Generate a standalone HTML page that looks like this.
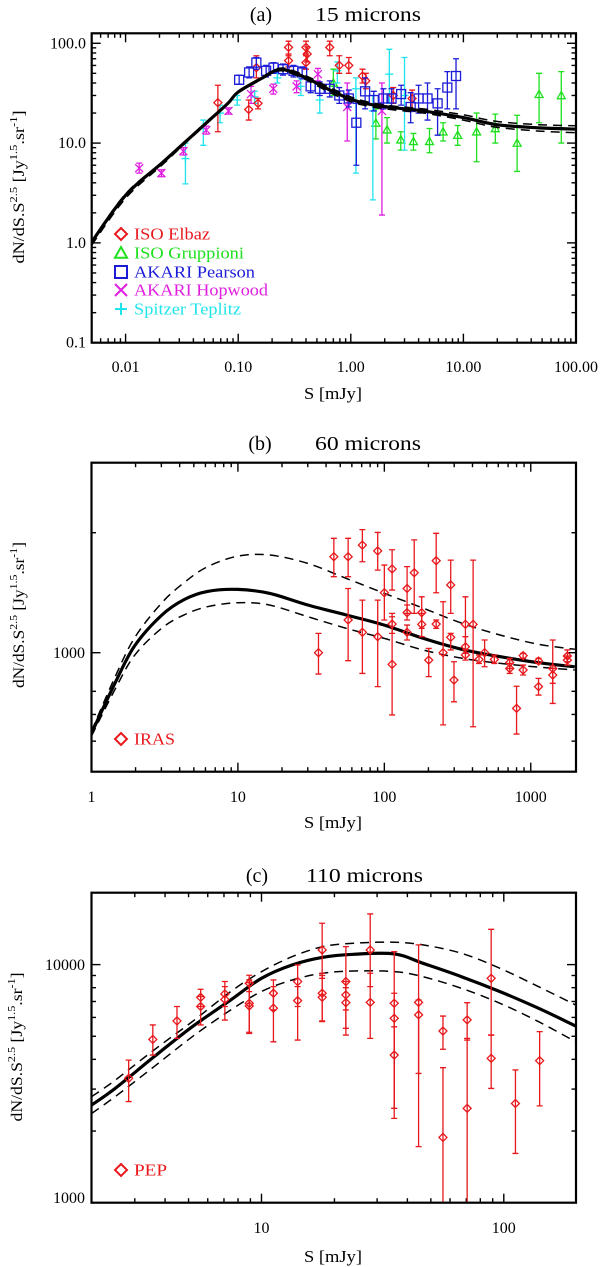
<!DOCTYPE html>
<html>
<head>
<meta charset="utf-8">
<style>
html,body{margin:0;padding:0;background:#fff;}
svg{display:block;}
text{font-family:"Liberation Serif",serif;fill:#000;}
</style>
</head>
<body>
<svg id="fig" width="600" height="1267" viewBox="0 0 600 1267" xmlns="http://www.w3.org/2000/svg">
<defs>
<clipPath id="clipA"><rect x="91.7" y="33.3" width="484.3" height="309.4"/></clipPath>
<clipPath id="clipB"><rect x="91.5" y="462.7" width="484.5" height="309"/></clipPath>
<clipPath id="clipC"><rect x="91.5" y="892.7" width="484.5" height="310"/></clipPath>
</defs>
</svg>
<script>
// ---------- Panel (a) data: 15 microns ----------
const elbazS  = [0.066,0.124,0.15,0.145,0.28,0.28,0.40,0.41,0.40,0.65,0.79,0.96,1.27,1.36,2.38,3.5];
const elbazY  = [25.4,21.7,25,57,91,67,91,78,64,91,60,60,47,42,30,28];
const elbazLo = [13,17,22,45,75,58,78,65,55,75,50,50,40,35,25,22];
const elbazHi = [38,27,28,75,105,78,105,92,75,105,75,72,55,50,36,34];

const grupS  = [0.7,1.67,2.1,2.78,3.6,5.0,6.6,8.9,13.1,19.2,30,47,74];
const grupY  = [40,15.9,13.6,10.8,10.4,10.4,13,12,13,14,10,30.8,30];
const grupLo = [30,11,10,8.5,8.5,8,10.5,9.5,6.5,10,5.2,16,10];
const grupHi = [55,22,18,13,12.5,14,16,15,20,19.5,19,50,52];

const pearS  = [0.102,0.125,0.145,0.177,0.206,0.25,0.31,0.37,0.44,0.53,0.65,0.79,0.96,1.12,1.34,1.6,1.95,2.3,2.8,3.4,4.0,4.8,5.9,7.2,8.6];
const pearY  = [43,51,64,53,57,55,53,51,37,35,35,30,28,16,33,27,28,28,31,23,28,28,25,36,47];
const pearLo = [39,45,55,46,50,48,46,44,32,30,29,25,23,6,22,21,22,22,24,16,20,17,12,22,22];
const pearHi = [48,58,72,60,64,62,60,58,43,41,42,36,34,25,45,33,35,35,38,32,38,40,35,52,70];

const hopS  = [0.0132,0.0208,0.0326,0.052,0.082,0.13,0.205,0.33,0.51,0.93,1.89];
const hopY  = [5.6,5.0,8.3,13.5,21,31,35,37,49,23,21];
const hopLo = [5.0,4.6,7.6,12.3,19.5,25,31,32,42,10.5,1.9];
const hopHi = [6.3,5.4,9.0,14.8,22.5,37,39,42,56,40,40];

const tepS  = [0.034,0.049,0.069,0.098,0.14,0.223,0.36,0.53,0.76,1.11,1.57,2.2,3.0];
const tepY  = [7,14,20,27,29,45,37,27,53,35,21,49,30];
const tepLo = [3.9,9.5,16,24,25,40,30,20,40,5,2.7,25,8.5];
const tepHi = [10,17,24,30,33,50,44,37,65,45,30,87,72];

const modelAS  = [0.005,0.01,0.021,0.033,0.052,0.081,0.1,0.164,0.22,0.28,0.42,0.62,1,1.5,2.4,4.4,10,19.7,47,100];
const modelAY  = [1.02,3.0,6.3,10,15.9,25,32.5,45,54,53,44,35,27.5,24.4,22.6,21,18,15.3,14.2,13.8];
const modelAUp = [1.05,3.1,6.4,10.2,16.2,25.5,33,46,55.5,55,46,37,29,25.5,23.5,22,19.2,16.5,15.3,14.9];
const modelALo = [0.95,2.8,6.0,9.7,15.5,24.5,32,44,52.5,51,42,33,26,23.2,21.5,20,17,14.4,13.2,12.7];

// ---------- Panel (b) data: 60 microns ----------
const irasS  = [35.5,45.2,56.6,56.6,70.8,70.8,90.1,90.1,100,113,113,113,143,143,143,160,180,180,201,226,226,252,284,284,299,358,358,358,404,443,484,564,718,718,800,887,887,1130,1130,1413,1413,1778,1778];
const irasY  = [1000,1741,1741,1208,1862,1125,1800,1097,1414,1622,1180,935,1449,1260,1125,1587,1260,1178,958,1701,1180,1000,1479,1093,854,1178,1035,987,1178,962,1000,962,944,913,725,983,905,953,822,913,879,981,958];
const irasHi = [1118,1936,1936,1449,2036,1355,2003,1355,1659,1812,1231,1255,1644,1317,1173,1919,1381,1255,1025,1993,1208,1342,1707,1118,949,1381,1097,1016,1707,987,1076,987,968,940,824,996,931,968,862,1076,913,1016,981];
const irasLo = [884,1551,1551,955,1691,887,1611,822,1208,1436,1118,698,1255,1208,1076,1255,1151,1097,871,1414,1151,659,1255,1016,753,1016,996,958,652,940,922,940,913,887,625,968,879,940,783,746,838,949,931];

const modelBS  = [1,1.45,1.97,3.0,4.3,6.2,10,16.4,30,55,100,185,340,620,1130,2000];
const modelBY  = [628,840,1040,1240,1360,1425,1441,1409,1317,1243,1173,1086,1019,977,944,922];
const modelBUp = [636,870,1090,1330,1500,1643,1747,1758,1675,1536,1409,1292,1185,1107,1050,1020];
const modelBLo = [618,810,985,1150,1245,1304,1335,1317,1231,1151,1086,1015,968,940,920,905];

// ---------- Panel (c) data: 110 microns ----------
const pepS  = [2.83,3.56,4.48,5.61,5.61,7.06,7.06,8.9,8.9,8.9,11.2,11.2,14.1,14.1,17.8,17.8,17.8,22.3,22.3,22.3,28.1,28.1,35.3,35.3,35.3,44.5,44.5,56.1,56.1,70.6,70.6,88.7,88.7,111.7,140.6];
const pepY  = [3330,4850,5800,7290,6670,7530,7140,6880,6700,8350,7580,6560,8490,7060,11520,7580,7290,8490,7460,6920,11520,6940,6880,5950,4170,6940,6150,5260,1880,5860,2490,8760,4040,2610,3950];
const pepHi = [3970,5580,6670,7880,7350,8490,8080,8620,8400,9020,8620,8080,9970,8080,14920,9200,9000,11900,8490,8000,16320,9200,11330,7580,5480,12100,7100,6080,3690,6920,4900,14070,5060,3610,5230];
const pepLo = [2660,4170,4900,6670,5580,6670,5850,5140,5200,7700,6450,4740,6670,4820,8760,5760,5800,5060,6450,5400,8080,4900,2490,2260,2490,3490,1720,4410,800,4820,800,5060,3020,1610,2550];

const modelCS  = [1.99,2.49,3.6,5.18,7.47,10,13.4,17.9,24,35.3,46.4,66.9,96.5,139,198];
const modelCY  = [2570,3020,4101,5483,7110,8760,9970,10730,11050,11090,10130,8900,7700,6560,5520];
const modelCUp = [2790,3270,4380,5760,7710,9340,10800,11900,12300,12420,12100,11160,9650,8080,6770];
const modelCLo = [2370,2790,3725,4980,6450,7710,8620,9200,9400,9350,8900,7950,6880,5760,4740];

// ---------- drawing ----------
const NS = 'http://www.w3.org/2000/svg';
const svg = document.getElementById('fig');
const RED='#e8181c', GREEN='#1ee01e', BLUE='#1c1cd8', MAG='#e01ee0', CYAN='#20e4ec';

function mk(tag, attrs, parent){
  const e=document.createElementNS(NS,tag);
  for(const k in attrs) e.setAttribute(k,attrs[k]);
  (parent||svg).appendChild(e);
  return e;
}
function logAxis(l0,l1,p0,p1){ return v => p0 + (Math.log10(v)-l0)/(l1-l0)*(p1-p0); }

function drawFrame(g, box){
  const r = mk('rect',{x:box.x0,y:box.y1,width:box.x1-box.x0,height:box.y0-box.y1,fill:'none',stroke:'#000','stroke-width':2.2},g);
  
  
}
function tickX(g, X, box, vals, len){
  vals.forEach(v=>{
    const x=X(v);
    mk('line',{x1:x,x2:x,y1:box.y0,y2:box.y0-len,stroke:'#000','stroke-width':1.4},g);
    mk('line',{x1:x,x2:x,y1:box.y1,y2:box.y1+len,stroke:'#000','stroke-width':1.4},g);
  });
}
function tickY(g, Y, box, vals, len){
  vals.forEach(v=>{
    const y=Y(v);
    mk('line',{x1:box.x0,x2:box.x0+len,y1:y,y2:y,stroke:'#000','stroke-width':1.4},g);
    mk('line',{x1:box.x1,x2:box.x1-len,y1:y,y2:y,stroke:'#000','stroke-width':1.4},g);
  });
}
function decadeMinors(a,b){ const out=[]; for(let d=a;d<=b;d++){ for(let m=2;m<=9;m++) out.push(m*Math.pow(10,d)); } return out; }

function marker(g,type,x,y,col,s,w){
  let e;
  if(type==='diamond') e=mk('polygon',{points:`${x},${y-s} ${x+s},${y} ${x},${y+s} ${x-s},${y}`,fill:'none',stroke:col,'stroke-width':w},g);
  else if(type==='square') e=mk('rect',{x:x-s,y:y-s,width:2*s,height:2*s,fill:'none',stroke:col,'stroke-width':w},g);
  else if(type==='triangle') e=mk('polygon',{points:`${x},${y-s} ${x+s},${y+s*0.8} ${x-s},${y+s*0.8}`,fill:'none',stroke:col,'stroke-width':w},g);
  else if(type==='cross') e=mk('path',{d:`M${x-s},${y-s}L${x+s},${y+s}M${x-s},${y+s}L${x+s},${y-s}`,stroke:col,'stroke-width':w,fill:'none'},g);
  else e=mk('path',{d:`M${x-s},${y}L${x+s},${y}M${x},${y-s}L${x},${y+s}`,stroke:col,'stroke-width':w,fill:'none'},g);
  return e;
}
function series(g, X, Y, xs, ys, lo, hi, type, col, name){
  const sg=mk('g',{},g);
  
  
  xs.forEach((v,i)=>{
    const x=X(v), y1=Y(hi[i]), y2=Y(lo[i]);
    const eb=mk('path',{d:`M${x},${y1}L${x},${y2}M${x-3},${y1}L${x+3},${y1}M${x-3},${y2}L${x+3},${y2}`,stroke:col,'stroke-width':1.3,fill:'none'},sg);
    
    
    const m=marker(sg,type,x,Y(ys[i]),col,type==='square'?4.5:4,1.3);
    
    
  });
}
function curve(g,X,Y,xs,ys,dashed,name){
  const P=xs.map((v,i)=>[X(v),Y(ys[i])]);
  let d='M'+P[0][0].toFixed(1)+','+P[0][1].toFixed(1);
  for(let i=0;i<P.length-1;i++){
    const p0=P[Math.max(0,i-1)], p1=P[i], p2=P[i+1], p3=P[Math.min(P.length-1,i+2)];
    const c1=[p1[0]+(p2[0]-p0[0])/6, p1[1]+(p2[1]-p0[1])/6];
    const c2=[p2[0]-(p3[0]-p1[0])/6, p2[1]-(p3[1]-p1[1])/6];
    d+=`C${c1[0].toFixed(1)},${c1[1].toFixed(1)} ${c2[0].toFixed(1)},${c2[1].toFixed(1)} ${p2[0].toFixed(1)},${p2[1].toFixed(1)}`;
  }
  const p=mk('path',{d:d,fill:'none',stroke:'#000','stroke-width':dashed?1.5:3.2,'stroke-dasharray':dashed?'9,6':'none','stroke-linejoin':'round'},g);
  
  
}
function text(g,x,y,str,size,anchor,name,len){
  const t=mk('text',{x:x,y:y,'font-size':size,'text-anchor':anchor||'start'},g);
  if(len){ t.setAttribute('textLength',len); t.setAttribute('lengthAdjust','spacingAndGlyphs'); }
  t.textContent=str;
  
  
  return t;
}
function yTitle(g,cx,cy,len){
  const t=mk('text',{x:cx,y:cy,'font-size':16,'text-anchor':'middle',transform:`rotate(-90 ${cx} ${cy})`,textLength:len,lengthAdjust:'spacingAndGlyphs'},g);
  t.innerHTML='dN/dS.S<tspan font-size="11" dy="-7">2.5</tspan><tspan dy="7"> [Jy</tspan><tspan font-size="11" dy="-7">1.5</tspan><tspan dy="7">.sr</tspan><tspan font-size="11" dy="-7">-1</tspan><tspan dy="7">]</tspan>';
  
  
}
function legendEntry(g,x,y,type,col,label,len){
  const lg=mk('g',{},g);
  
  
  marker(lg,type,x,y,col,6,2);
  const t=mk('text',{x:x+13,y:y+5.5,'font-size':17,fill:col,textLength:len,lengthAdjust:'spacingAndGlyphs'},lg);
  t.style.fill=col;
  t.textContent=label;
}

// ===== Panel A =====
(function(){
  const g=mk('g',{});  
  const box={x0:91.7,x1:576,y0:342.7,y1:33.3};
  const X=logAxis(-2.301,2,box.x0,box.x1), Y=logAxis(-1,2.1,box.y0,box.y1);
  text(g,261,21,'(a)',20,'middle','panel-a-label');
  text(g,315,21,'15 microns',20,'start','panel-a-title',106);
  tickX(g,X,box,[0.01,0.1,1,10,100],9);
  tickX(g,X,box,decadeMinors(-3,1).filter(v=>v>0.005&&v<100),4.5);
  tickY(g,Y,box,[0.1,1,10,100],9);
  tickY(g,Y,box,decadeMinors(-1,1).concat([200]).filter(v=>v<125),4.5);
  ['0.01','0.10','1.00','10.00','100.00'].forEach((s,i)=>text(g,X([0.01,0.1,1,10,100][i]),372,s,16,'middle','x-tick-label'));
  ['0.1','1.0','10.0','100.0'].forEach((s,i)=>text(g,86,Y([0.1,1,10,100][i])+5,s,16,'end','y-tick-label'));
  text(g,333,399,'S [mJy]',17,'middle','x-axis-title',58);
  yTitle(g,24,187,153);
  const c=mk('g',{'clip-path':'url(#clipA)'},g);
  series(c,X,Y,grupS,grupY,grupLo,grupHi,'triangle',GREEN,'series-iso-gruppioni');
  series(c,X,Y,tepS,tepY,tepLo,tepHi,'plus',CYAN,'series-spitzer-teplitz');
  series(c,X,Y,hopS,hopY,hopLo,hopHi,'cross',MAG,'series-akari-hopwood');
  series(c,X,Y,elbazS,elbazY,elbazLo,elbazHi,'diamond',RED,'series-iso-elbaz');
  series(c,X,Y,pearS,pearY,pearLo,pearHi,'square',BLUE,'series-akari-pearson');
  curve(c,X,Y,modelAS,modelAUp,true,'model-upper-dashed');
  curve(c,X,Y,modelAS,modelALo,true,'model-lower-dashed');
  curve(c,X,Y,modelAS,modelAY,false,'model-curve');
  drawFrame(g,box);
  legendEntry(g,121,234,'diamond',RED,'ISO Elbaz',76);
  legendEntry(g,121,253,'triangle',GREEN,'ISO Gruppioni',110);
  legendEntry(g,121,272,'square',BLUE,'AKARI Pearson',121);
  legendEntry(g,121,290,'cross',MAG,'AKARI Hopwood',134);
  legendEntry(g,121,309,'plus',CYAN,'Spitzer Teplitz',107);
})();

// ===== Panel B =====
(function(){
  const g=mk('g',{});  
  const box={x0:91.5,x1:576,y0:771.7,y1:462.7};
  const X=logAxis(0,3.309,box.x0,box.x1), Y=logAxis(2.7015,3.4766,box.y0,box.y1);
  text(g,260,450,'(b)',20,'middle','panel-b-label');
  text(g,315,450,'60 microns',20,'start','panel-b-title',106);
  tickX(g,X,box,[1,10,100,1000],9);
  tickX(g,X,box,decadeMinors(0,3).filter(v=>v<2000),4.5);
  tickY(g,Y,box,[1000],9);
  tickY(g,Y,box,[600,700,800,2000],4.5);
  ['1','10','100','1000'].forEach((s,i)=>text(g,X([1,10,100,1000][i]),802,s,16,'middle','x-tick-label'));
  text(g,85,658,'1000',16,'end','y-tick-label');
  text(g,333,828,'S [mJy]',17,'middle','x-axis-title',58);
  yTitle(g,24,615,146);
  const c=mk('g',{'clip-path':'url(#clipB)'},g);
  curve(c,X,Y,modelBS,modelBUp,true,'model-upper-dashed');
  curve(c,X,Y,modelBS,modelBLo,true,'model-lower-dashed');
  curve(c,X,Y,modelBS,modelBY,false,'model-curve');
  series(c,X,Y,irasS,irasY,irasLo,irasHi,'diamond',RED,'series-iras');
  drawFrame(g,box);
  legendEntry(g,121,739,'diamond',RED,'IRAS',41);
})();

// ===== Panel C =====
(function(){
  const g=mk('g',{});  
  const box={x0:91.5,x1:576,y0:1202.7,y1:892.7};
  const X=logAxis(0.2984,2.298,box.x0,box.x1), Y=logAxis(3,4.302,box.y0,box.y1);
  text(g,257,882,'(c)',20,'middle','panel-c-label');
  text(g,306,882,'110 microns',20,'start','panel-c-title',117);
  tickX(g,X,box,[10,100],9);
  tickX(g,X,box,[3,4,5,6,7,8,9,20,30,40,50,60,70,80,90],4.5);
  tickY(g,Y,box,[10000],9);
  tickY(g,Y,box,[2000,3000,4000,5000,6000,7000,8000,9000],4.5);
  ['10','100'].forEach((s,i)=>text(g,X([10,100][i]),1233,s,16,'middle','x-tick-label'));
  text(g,85,970,'10000',16,'end','y-tick-label');
  text(g,85,1203,'1000',16,'end','y-tick-label');
  text(g,333,1262,'S [mJy]',17,'middle','x-axis-title',58);
  yTitle(g,22,1047,149);
  const c=mk('g',{'clip-path':'url(#clipC)'},g);
  curve(c,X,Y,modelCS,modelCUp,true,'model-upper-dashed');
  curve(c,X,Y,modelCS,modelCLo,true,'model-lower-dashed');
  curve(c,X,Y,modelCS,modelCY,false,'model-curve');
  series(c,X,Y,pepS,pepY,pepLo,pepHi,'diamond',RED,'series-pep');
  drawFrame(g,box);
  legendEntry(g,121,1170,'diamond',RED,'PEP',33);
})();
</script>
</body>
</html>
